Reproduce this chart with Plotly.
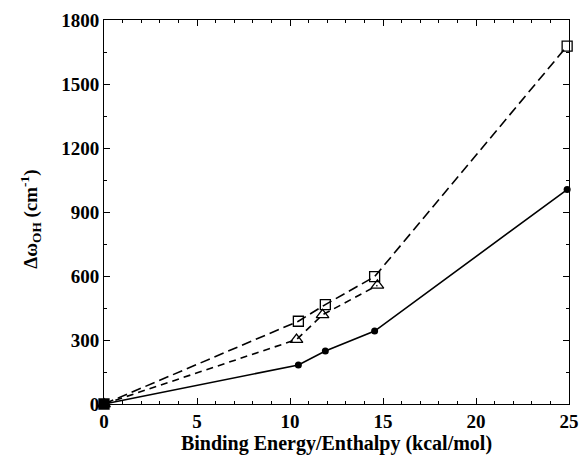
import plotly.graph_objects as go

# Data
x_circle = [0, 10.45, 11.9, 14.55, 24.9]
y_circle = [0, 183, 248, 342, 1005]
x_square = [0, 10.45, 11.9, 14.55, 24.9]
y_square = [0, 388, 466, 597, 1678]
x_tri = [0, 10.35, 11.75, 14.7]
y_tri = [0, 302, 418, 556]
x_ticks = [0, 5, 10, 15, 20, 25]
y_ticks = [0, 300, 600, 900, 1200, 1500, 1800]

fig = go.Figure()
fig.add_trace(go.Scatter(x=x_square, y=y_square, mode="lines+markers", cliponaxis=False,
                         line=dict(color="black", width=1.6, dash="10px,5px"),
                         marker=dict(symbol="square-open", size=10, color="black", line=dict(width=1.3))))
fig.add_trace(go.Scatter(x=x_tri, y=y_tri, mode="lines+markers", cliponaxis=False,
                         line=dict(color="black", width=1.6, dash="7px,5px"),
                         marker=dict(symbol="triangle-up-open", size=11, color="black", line=dict(width=1.3))))
fig.add_trace(go.Scatter(x=x_circle, y=y_circle, mode="lines+markers", cliponaxis=False,
                         line=dict(color="black", width=1.6),
                         marker=dict(symbol="circle", size=7, color="black")))
fig.add_trace(go.Scatter(x=[x_circle[0]], y=[y_circle[0]], mode="markers", cliponaxis=False,
                         marker=dict(symbol="square", size=10, color="black")))

fam = "Liberation Serif, Times New Roman, serif"
tick_font = dict(family=fam, size=19, color="black")
title_font = dict(family=fam, size=20, color="black")
axis_common = dict(showline=True, linecolor="black", linewidth=1, mirror="ticks",
                   ticks="inside", ticklen=6, tickcolor="black", showgrid=False,
                   zeroline=False, tickfont=tick_font)
fig.update_xaxes(range=[0, 25], tickvals=x_ticks, ticktext=["<b>%d</b>" % v for v in x_ticks],
                 minor=dict(dtick=1, ticks="inside", ticklen=3, tickcolor="black"),
                 title=dict(text="<b>Binding Energy/Enthalpy (kcal/mol)</b>", font=title_font, standoff=2),
                 **axis_common)
fig.update_yaxes(range=[0, 1800], tickvals=y_ticks, ticktext=["<b>%d</b>" % v for v in y_ticks],
                 minor=dict(dtick=150, ticks="inside", ticklen=3, tickcolor="black"),
                 title=dict(text="<b>Δω<sub>OH</sub> (cm<sup>-1</sup>)</b>&nbsp;&nbsp;&nbsp;",
                            font=dict(family=fam, size=19, color="black"), standoff=18),
                 **axis_common)
fig.update_layout(width=581, height=456, showlegend=False,
                  plot_bgcolor="white", paper_bgcolor="white",
                  margin=dict(l=104, r=12, t=20, b=52, autoexpand=False),
                  font=dict(family=fam, size=19, color="black"))
fig.write_html("out.html", config={"displayModeBar": False},
               post_script="document.body.style.margin='0';document.body.style.overflow='hidden';")
